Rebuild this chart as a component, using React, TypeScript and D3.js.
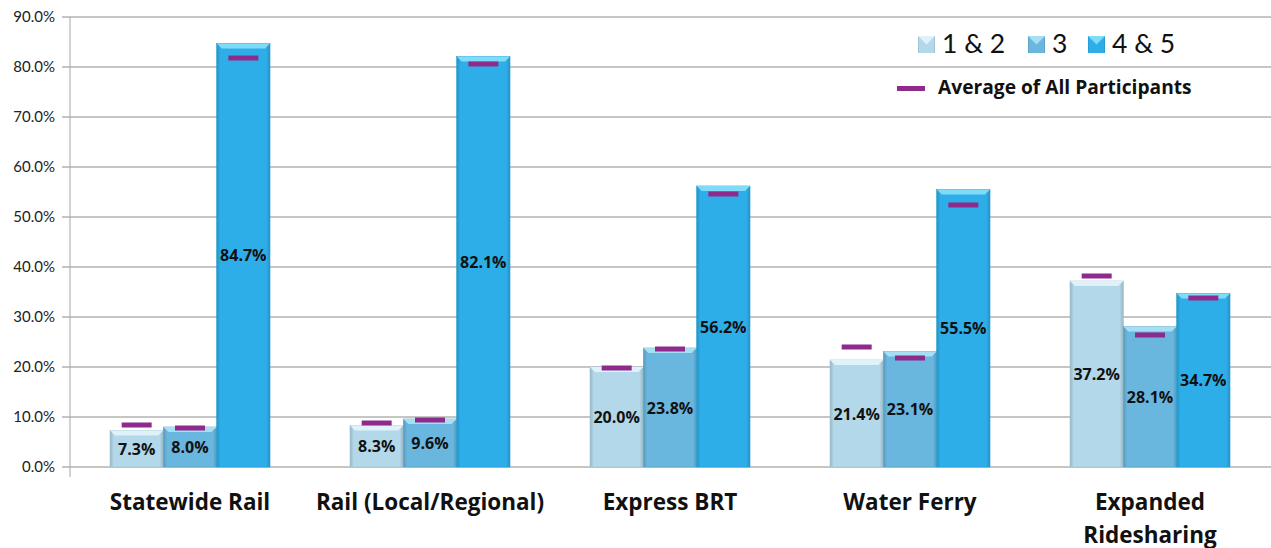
import * as d3 from "d3";
import { useRef, useEffect } from "react";

const categories = ["Statewide Rail", "Rail (Local/Regional)", "Express BRT", "Water Ferry", "Expanded Ridesharing"];
const seriesNames = ["1 & 2", "3", "4 & 5"];
const values12 = [7.3, 8.3, 20.0, 21.4, 37.2];
const values3 = [8.0, 9.6, 23.8, 23.1, 28.1];
const values45 = [84.7, 82.1, 56.2, 55.5, 34.7];
const avg12 = [8.4, 8.8, 19.8, 24.0, 38.2];
const avg3 = [7.8, 9.4, 23.6, 21.8, 26.4];
const avg45 = [81.8, 80.6, 54.6, 52.4, 33.8];
const yTicks = [0, 10, 20, 30, 40, 50, 60, 70, 80, 90];

const colors = ["#b3d8ea", "#69b6de", "#2eaee8"];
const topColors = ["#dff2fa", "#a6def3", "#7fdcf8"];
const FONT = "Lato, 'Open Sans', sans-serif";
const BOLD = "'Open Sans', sans-serif";

export default function App() {
  const svgRef = useRef<SVGSVGElement | null>(null);

  useEffect(() => {
    const svg = d3.select(svgRef.current);
    svg.selectAll("*").remove();

    const W = 1271, H = 548;
    const x0 = 70, x1 = 1270;
    const y = d3.scaleLinear().domain([0, 90]).range([467, 17]);
    const xg = d3.scaleBand<string>().domain(categories).range([x0, x1]).paddingInner(0).paddingOuter(0);
    const xs = d3.scaleBand<string>().domain(seriesNames).range([40, 200]).padding(0);

    const vals = [values12, values3, values45];
    const avgs = [avg12, avg3, avg45];

    // gradients for bar sides
    const defs = svg.append("defs");
    colors.forEach((c, i) => {
      const g = defs.append("linearGradient").attr("id", `bar${i}`).attr("x1", 0).attr("x2", 1).attr("y1", 0).attr("y2", 0);
      const dark = d3.color(c)!.darker(0.5).formatHex();
      g.append("stop").attr("offset", "0%").attr("stop-color", dark);
      g.append("stop").attr("offset", "7%").attr("stop-color", c);
      g.append("stop").attr("offset", "93%").attr("stop-color", c);
      g.append("stop").attr("offset", "100%").attr("stop-color", dark);
    });

    // gridlines
    svg.append("g").selectAll("line").data(yTicks).join("line")
      .attr("x1", 62).attr("x2", W)
      .attr("y1", d => y(d)).attr("y2", d => y(d))
      .attr("stroke", "#8c8c8c").attr("stroke-width", 1);

    // y axis line
    svg.append("line").attr("x1", x0).attr("x2", x0).attr("y1", y(90)).attr("y2", 477)
      .attr("stroke", "#a6a6a6").attr("stroke-width", 1);

    svg.append("g").selectAll("text").data(yTicks).join("text")
      .attr("x", 55).attr("y", d => y(d) + 5)
      .attr("text-anchor", "end").attr("font-family", FONT).attr("font-size", 15).attr("fill", "#222")
      .text(d => `${d.toFixed(1)}%`);

    // bars
    seriesNames.forEach((s, si) => {
      const bw = xs.bandwidth();
      const g = svg.append("g");
      categories.forEach((c, ci) => {
        const v = vals[si][ci];
        const bx = xg(c)! + xs(s)!;
        const by = y(v);
        const bh = y(0) - by;
        g.append("rect").attr("x", bx).attr("y", by).attr("width", bw).attr("height", bh)
          .attr("fill", `url(#bar${si})`).attr("stroke", d3.color(colors[si])!.darker(0.3).formatHex()).attr("stroke-width", 0.6);
        const bev = 5;
        g.append("path")
          .attr("d", `M${bx},${by} L${bx + bw},${by} L${bx + bw - bev},${by + bev} L${bx + bev},${by + bev} Z`)
          .attr("fill", topColors[si]);
        g.append("text")
          .attr("x", bx + bw / 2).attr("y", (by + y(0)) / 2 + 6)
          .attr("text-anchor", "middle").attr("font-family", BOLD).attr("font-weight", 700)
          .attr("font-size", 16).attr("fill", "#111")
          .text(`${v.toFixed(1)}%`);
        const a = avgs[si][ci];
        g.append("rect").attr("x", bx + bw / 2 - 15).attr("y", y(a) - 2.5).attr("width", 30).attr("height", 5)
          .attr("fill", "#8e2a8c");
      });
    });

    // x labels
    svg.append("g").selectAll("text").data(categories).join("text")
      .attr("x", d => xg(d)! + xg.bandwidth() / 2).attr("y", 510)
      .attr("text-anchor", "middle").attr("font-family", BOLD).attr("font-weight", 700)
      .attr("font-size", 22.5).attr("fill", "#111")
      .each(function (d) {
        const t = d3.select(this);
        if (d === "Expanded Ridesharing") {
          t.append("tspan").attr("x", xg(d)! + xg.bandwidth() / 2).attr("dy", 0).text("Expanded");
          t.append("tspan").attr("x", xg(d)! + xg.bandwidth() / 2).attr("dy", 33).text("Ridesharing");
        } else {
          t.text(d);
        }
      });

    // legend
    const legX = [918, 1028, 1088];
    seriesNames.forEach((s, i) => {
      const lg = svg.append("g").attr("transform", `translate(${legX[i]},36)`);
      lg.append("rect").attr("width", 17).attr("height", 17).attr("fill", `url(#bar${i})`);
      lg.append("path").attr("d", "M0,0 L17,0 L8.5,8.5 Z").attr("fill", topColors[i]);
      lg.append("text").attr("x", 24).attr("y", 17).attr("font-family", FONT).attr("font-size", 26.5).attr("fill", "#111").text(s);
    });
    svg.append("rect").attr("x", 897).attr("y", 86).attr("width", 28).attr("height", 5).attr("fill", "#8e2a8c");
    svg.append("text").attr("x", 938).attr("y", 94).attr("font-family", BOLD).attr("font-weight", 700)
      .attr("font-size", 19.2).attr("fill", "#111").text("Average of All Participants");

    svg.attr("viewBox", `0 0 ${W} ${H}`);
  }, []);

  return (
    <svg ref={svgRef} width={1271} height={548}
      style={{ display: "block", position: "absolute", left: 0, top: 0, background: "#fff" }} />
  );
}
